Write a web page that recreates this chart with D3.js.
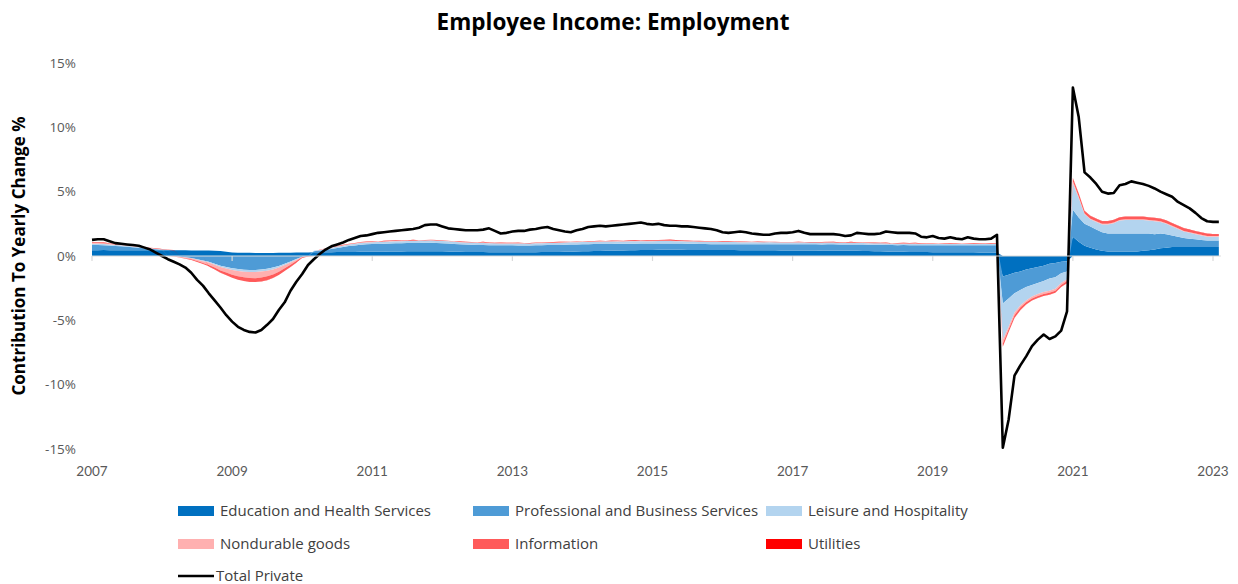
<!DOCTYPE html>
<html>
<head>
<meta charset="utf-8">
<script src="https://cdn.jsdelivr.net/npm/d3@7"></script>
<style>
  html, body { margin: 0; padding: 0; background: #fff; }
  svg { display: block; font-family: "Open Sans", Lato, "Liberation Sans", sans-serif; }
</style>
</head>
<body>
<svg id="chart" width="1238" height="584"></svg>
<script>
// Monthly series, Jan 2007 .. Feb 2023 (contribution to yearly change, %)
const startYear = 2007;

const totalPrivate = [
  1.25,1.3,1.3,1.15,1.0,0.95,0.9,0.85,0.8,0.65,0.5,0.25,
  0.0,-0.25,-0.45,-0.65,-0.9,-1.3,-1.85,-2.3,-2.9,-3.45,-4.0,-4.6,
  -5.1,-5.5,-5.75,-5.9,-5.95,-5.75,-5.35,-4.9,-4.2,-3.6,-2.7,-2.0,
  -1.4,-0.7,-0.25,0.15,0.5,0.75,0.9,1.05,1.25,1.4,1.55,1.6,
  1.7,1.8,1.85,1.9,1.95,2.0,2.05,2.1,2.2,2.4,2.45,2.45,
  2.3,2.15,2.1,2.05,2.0,2.0,2.0,2.05,2.15,1.95,1.75,1.8,
  1.9,1.95,1.95,2.05,2.1,2.2,2.25,2.1,2.0,1.9,1.85,2.0,
  2.1,2.25,2.3,2.35,2.3,2.35,2.4,2.45,2.5,2.55,2.6,2.5,
  2.45,2.5,2.4,2.35,2.35,2.3,2.3,2.25,2.2,2.15,2.1,2.0,
  1.85,1.8,1.85,1.9,1.85,1.75,1.7,1.65,1.65,1.75,1.8,1.8,
  1.85,1.95,1.8,1.7,1.7,1.7,1.7,1.7,1.65,1.55,1.6,1.8,
  1.75,1.7,1.7,1.75,1.9,1.85,1.8,1.8,1.8,1.75,1.5,1.45,
  1.55,1.4,1.35,1.45,1.35,1.3,1.45,1.35,1.3,1.3,1.35,1.65,
  -14.9,-12.7,-9.3,-8.5,-7.8,-7.0,-6.5,-6.1,-6.45,-6.25,-5.8,-4.3,
  13.1,10.8,6.5,6.1,5.6,5.0,4.85,4.9,5.5,5.6,5.8,5.7,
  5.6,5.45,5.25,5.0,4.8,4.6,4.2,3.95,3.7,3.35,2.95,2.7,
  2.65,2.65
];

const educationHealth = [
  0.45,0.45,0.46,0.45,0.44,0.45,0.45,0.44,0.45,0.45,0.44,0.44,
  0.44,0.44,0.45,0.44,0.44,0.43,0.43,0.42,0.42,0.40,0.38,0.33,
  0.28,0.26,0.25,0.25,0.24,0.24,0.24,0.24,0.25,0.25,0.26,0.27,
  0.28,0.28,0.29,0.3,0.3,0.3,0.31,0.31,0.32,0.32,0.33,0.33,
  0.33,0.34,0.34,0.35,0.35,0.35,0.36,0.36,0.36,0.37,0.37,0.37,
  0.36,0.35,0.34,0.33,0.32,0.32,0.31,0.31,0.3,0.3,0.3,0.3,
  0.3,0.3,0.3,0.3,0.3,0.31,0.31,0.32,0.32,0.33,0.34,0.35,
  0.36,0.37,0.38,0.39,0.4,0.41,0.42,0.43,0.44,0.45,0.46,0.47,
  0.47,0.48,0.48,0.48,0.48,0.48,0.47,0.47,0.47,0.46,0.46,0.46,
  0.46,0.46,0.46,0.45,0.45,0.45,0.45,0.44,0.44,0.44,0.43,0.43,
  0.43,0.43,0.42,0.42,0.42,0.41,0.41,0.41,0.4,0.4,0.4,0.4,
  0.39,0.38,0.37,0.36,0.35,0.34,0.33,0.33,0.32,0.32,0.31,0.31,
  0.3,0.3,0.3,0.3,0.29,0.29,0.29,0.29,0.28,0.28,0.28,0.28,
  -1.6,-1.45,-1.3,-1.2,-1.05,-0.95,-0.85,-0.75,-0.6,-0.55,-0.45,-0.4,
  1.5,1.1,0.8,0.65,0.5,0.4,0.35,0.35,0.35,0.35,0.35,0.35,
  0.4,0.45,0.5,0.6,0.65,0.7,0.7,0.7,0.7,0.7,0.7,0.7,
  0.7,0.7
];

const professionalBusiness = [
  0.4,0.4,0.38,0.36,0.33,0.3,0.27,0.24,0.2,0.16,0.12,0.08,
  0.05,0.02,0.0,-0.05,-0.1,-0.15,-0.25,-0.35,-0.45,-0.6,-0.75,-0.85,
  -0.95,-1.02,-1.06,-1.08,-1.08,-1.05,-1.0,-0.9,-0.78,-0.6,-0.42,-0.24,
  -0.05,0.0,0.08,0.12,0.18,0.25,0.32,0.38,0.45,0.5,0.55,0.58,
  0.6,0.6,0.62,0.63,0.64,0.64,0.65,0.65,0.66,0.66,0.66,0.65,
  0.64,0.62,0.6,0.58,0.57,0.56,0.55,0.55,0.54,0.54,0.53,0.53,
  0.53,0.52,0.52,0.52,0.53,0.53,0.54,0.54,0.54,0.55,0.55,0.55,
  0.55,0.55,0.55,0.54,0.54,0.53,0.53,0.52,0.52,0.51,0.51,0.5,
  0.5,0.5,0.5,0.5,0.49,0.49,0.48,0.48,0.47,0.47,0.46,0.46,
  0.46,0.46,0.46,0.46,0.47,0.47,0.47,0.47,0.48,0.48,0.48,0.48,
  0.48,0.48,0.49,0.49,0.49,0.49,0.5,0.5,0.5,0.5,0.5,0.5,
  0.5,0.5,0.5,0.51,0.51,0.51,0.51,0.52,0.52,0.52,0.52,0.52,
  0.53,0.53,0.53,0.53,0.54,0.54,0.54,0.54,0.55,0.55,0.55,0.55,
  -2.1,-1.85,-1.6,-1.45,-1.35,-1.3,-1.25,-1.2,-1.15,-1.1,-0.9,-0.8,
  2.1,1.9,1.7,1.65,1.55,1.45,1.4,1.4,1.4,1.4,1.4,1.4,
  1.35,1.3,1.2,1.15,1.05,0.9,0.8,0.7,0.65,0.6,0.55,0.5,
  0.5,0.5
];

const leisureHospitality = [
  0.1,0.1,0.1,0.09,0.08,0.08,0.07,0.06,0.05,0.05,0.04,0.03,
  0.02,0.01,0.0,-0.01,-0.02,-0.03,-0.04,-0.05,-0.06,-0.08,-0.1,-0.12,
  -0.14,-0.15,-0.16,-0.17,-0.17,-0.16,-0.15,-0.14,-0.12,-0.1,-0.08,-0.05,
  -0.02,0.0,0.03,0.05,0.07,0.09,0.1,0.11,0.12,0.13,0.14,0.14,
  0.14,0.14,0.15,0.15,0.15,0.16,0.16,0.16,0.16,0.17,0.17,0.17,
  0.17,0.17,0.17,0.16,0.16,0.16,0.16,0.16,0.15,0.15,0.15,0.15,
  0.15,0.15,0.15,0.15,0.16,0.16,0.16,0.16,0.16,0.17,0.17,0.17,
  0.17,0.17,0.17,0.18,0.18,0.18,0.18,0.18,0.18,0.18,0.18,0.18,
  0.18,0.18,0.18,0.18,0.18,0.17,0.17,0.17,0.17,0.17,0.17,0.16,
  0.16,0.16,0.16,0.16,0.15,0.15,0.15,0.15,0.15,0.14,0.14,0.14,
  0.14,0.14,0.14,0.13,0.13,0.13,0.13,0.13,0.12,0.12,0.12,0.12,
  0.12,0.12,0.12,0.12,0.12,0.11,0.11,0.11,0.11,0.11,0.11,0.11,
  0.1,0.1,0.1,0.1,0.1,0.1,0.1,0.1,0.1,0.1,0.1,0.12,
  -2.8,-2.2,-1.5,-1.2,-1.05,-0.9,-0.85,-0.85,-0.95,-0.9,-0.75,-0.6,
  2.05,1.5,0.75,0.55,0.6,0.6,0.7,0.8,1.0,1.05,1.05,1.05,
  1.05,1.0,1.0,0.9,0.8,0.7,0.6,0.5,0.45,0.4,0.35,0.3,
  0.3,0.3
];

const nondurableGoods = [
  0.06,0.06,0.06,0.05,0.05,0.05,0.04,0.04,0.03,0.03,0.02,0.02,
  0.01,0.0,-0.02,-0.04,-0.06,-0.08,-0.1,-0.14,-0.18,-0.22,-0.27,-0.32,
  -0.37,-0.41,-0.44,-0.46,-0.47,-0.46,-0.43,-0.39,-0.33,-0.26,-0.18,-0.1,
  -0.03,0.0,0.01,0.02,0.02,0.02,0.03,0.03,0.03,0.03,0.03,0.03,
  0.03,0.02,0.02,0.03,0.02,0.02,0.02,0.02,0.02,0.01,0.02,0.02,
  0.02,0.02,0.01,0.02,0.02,0.01,0.02,0.02,0.02,0.01,0.02,0.02,
  0.02,0.02,0.02,0.01,0.02,0.02,0.02,0.01,0.02,0.02,0.02,0.02,
  0.02,0.02,0.02,0.03,0.02,0.02,0.03,0.02,0.02,0.03,0.03,0.03,
  0.03,0.03,0.03,0.03,0.02,0.02,0.02,0.02,0.02,0.02,0.02,0.02,
  0.02,0.02,0.02,0.01,0.01,0.01,0.01,0.01,0.01,0.01,0.01,0.01,
  0.01,0.01,0.01,0.01,0.01,0.01,0.01,0.01,0.01,0.01,0.01,0.01,
  0.01,0.01,0.01,0.01,0.01,0.01,0.02,0.02,0.02,0.02,0.02,0.02,
  0.02,0.02,0.02,0.02,0.02,0.02,0.02,0.02,0.02,0.02,0.02,0.02,
  -0.3,-0.2,-0.2,-0.15,-0.15,-0.15,-0.15,-0.15,-0.15,-0.15,-0.15,-0.15,
  0.15,0.1,0.05,0.05,0.05,0.05,0.05,0.05,0.05,0.05,0.05,0.05,
  0.05,0.05,0.05,0.05,0.05,0.05,0.05,0.05,0.05,0.05,0.05,0.05,
  0.05,0.05
];

const information = [
  0.04,0.05,0.05,0.04,0.04,0.04,0.03,0.03,0.03,0.02,0.02,0.02,
  0.01,0.0,-0.01,-0.02,-0.03,-0.05,-0.07,-0.09,-0.11,-0.14,-0.17,-0.2,
  -0.23,-0.26,-0.28,-0.3,-0.3,-0.3,-0.29,-0.27,-0.24,-0.2,-0.16,-0.12,
  -0.06,-0.03,0.0,0.01,0.01,0.02,0.02,0.03,0.03,0.03,0.03,0.03,
  0.03,0.02,0.04,0.03,0.05,0.02,0.03,0.06,0.02,0.03,0.04,0.02,
  0.03,0.02,0.02,0.04,0.02,0.03,0.02,0.05,0.02,0.02,0.03,0.02,
  0.02,0.05,0.02,0.02,0.03,0.02,0.02,0.04,0.05,0.02,0.02,0.03,
  0.02,0.02,0.04,0.03,0.02,0.05,0.04,0.03,0.05,0.06,0.04,0.05,
  0.06,0.05,0.07,0.08,0.07,0.06,0.05,0.04,0.05,0.04,0.03,0.04,
  0.05,0.06,0.04,0.03,0.04,0.02,0.03,0.02,0.02,0.03,0.02,0.02,
  0.02,0.03,0.02,0.02,0.02,0.03,0.05,0.04,0.02,0.03,0.06,0.02,
  0.02,0.02,0.03,0.02,0.04,0.02,0.03,0.04,0.03,0.05,0.02,0.03,
  0.04,0.02,0.03,0.06,0.03,0.02,0.04,0.05,0.03,0.04,0.05,0.04,
  -0.25,-0.2,-0.2,-0.2,-0.15,-0.15,-0.15,-0.15,-0.15,-0.15,-0.15,-0.15,
  0.25,0.25,0.2,0.2,0.2,0.2,0.2,0.2,0.2,0.2,0.2,0.2,
  0.2,0.2,0.2,0.2,0.2,0.2,0.2,0.2,0.18,0.18,0.18,0.18,
  0.15,0.15
];

const utilities = [
  0.01,0.01,0.01,0.01,0.01,0.01,0.01,0.01,0.01,0.01,0.01,0.01,
  0.01,0.01,0.01,0.0,0.0,0.0,0.0,0.0,-0.01,-0.01,-0.01,-0.01,
  -0.01,-0.01,-0.01,-0.01,-0.01,-0.01,-0.01,-0.01,-0.01,-0.01,-0.01,-0.01,
  0.0,0.0,0.0,0.0,0.01,0.01,0.01,0.01,0.01,0.01,0.01,0.01,
  0.01,0.01,0.01,0.01,0.01,0.01,0.01,0.01,0.01,0.01,0.01,0.01,
  0.01,0.01,0.01,0.01,0.01,0.01,0.01,0.01,0.01,0.01,0.01,0.01,
  0.01,0.01,0.01,0.01,0.01,0.01,0.01,0.01,0.01,0.01,0.01,0.01,
  0.01,0.01,0.01,0.01,0.01,0.01,0.01,0.01,0.01,0.01,0.01,0.01,
  0.01,0.01,0.01,0.01,0.01,0.01,0.01,0.01,0.01,0.01,0.01,0.01,
  0.01,0.01,0.01,0.01,0.01,0.01,0.01,0.01,0.01,0.01,0.01,0.01,
  0.01,0.01,0.01,0.01,0.01,0.01,0.01,0.01,0.01,0.01,0.01,0.01,
  0.01,0.01,0.01,0.01,0.01,0.01,0.01,0.01,0.01,0.01,0.01,0.01,
  0.01,0.01,0.01,0.01,0.01,0.01,0.01,0.01,0.01,0.01,0.01,0.01,
  -0.01,-0.01,-0.01,-0.01,-0.01,-0.01,-0.01,-0.01,-0.01,-0.01,-0.01,-0.01,
  0.02,0.02,0.02,0.02,0.02,0.02,0.02,0.02,0.02,0.02,0.02,0.02,
  0.02,0.02,0.02,0.02,0.02,0.02,0.02,0.02,0.02,0.02,0.02,0.02,
  0.01,0.01
];

const seriesNames = [
  "Education and Health Services",
  "Professional and Business Services",
  "Leisure and Hospitality",
  "Nondurable goods",
  "Information",
  "Utilities"
];
const seriesColors = ["#0070C0", "#4E9BD6", "#B3D4EF", "#FFB0B0", "#FF5A5A", "#FF0000"];
const lineName = "Total Private";

const yTicks = [-15, -10, -5, 0, 5, 10, 15];
const xTickYears = [2007, 2009, 2011, 2013, 2015, 2017, 2019, 2021, 2023];

const titleText = "Employee Income: Employment";
const yTitleText = "Contribution To Yearly Change %";

// ---- build rows for the stack ----
const seriesValues = [educationHealth, professionalBusiness, leisureHospitality,
                      nondurableGoods, information, utilities];
const rows = totalPrivate.map((t, i) => {
  const r = { t: startYear + i / 12, total: t };
  seriesNames.forEach((n, k) => { r[n] = seriesValues[k][i]; });
  return r;
});

const svg = d3.select("#chart");

const x = d3.scaleLinear().domain([2007, 2023]).range([92, 1213]);
const y = d3.scaleLinear().domain([-15, 15]).range([449, 63]);

const stack = d3.stack()
  .keys(seriesNames)
  .offset(d3.stackOffsetDiverging);
const layers = stack(rows);

const area = d3.area()
  .x(d => x(d.data.t))
  .y0(d => y(d[0]))
  .y1(d => y(d[1]));

const plot = svg.append("g");

// horizontal axis line at zero with year tick marks
const axisG = svg.append("g").attr("transform", `translate(0,${y(0)})`);
axisG.append("line")
  .attr("x1", x(2007)).attr("x2", x(startYear + (totalPrivate.length - 1) / 12) + 2)
  .attr("y1", 0).attr("y2", 0)
  .attr("stroke", "#d9d9d9").attr("stroke-width", 1.2);
axisG.selectAll("line.tick")
  .data(xTickYears)
  .join("line")
  .attr("class", "tick")
  .attr("x1", d => x(d)).attr("x2", d => x(d))
  .attr("y1", 0).attr("y2", 5)
  .attr("stroke", "#d9d9d9").attr("stroke-width", 1.2);

plot.selectAll("path.layer")
  .data(layers)
  .join("path")
  .attr("class", "layer")
  .attr("fill", (d, i) => seriesColors[i])
  .attr("d", area);

const line = d3.line()
  .x(d => x(d.t))
  .y(d => y(d.total));

plot.append("path")
  .datum(rows)
  .attr("fill", "none")
  .attr("stroke", "#000")
  .attr("stroke-width", 2.6)
  .attr("stroke-linejoin", "round")
  .attr("d", line);

// y tick labels
svg.append("g").selectAll("text")
  .data(yTicks)
  .join("text")
  .attr("x", 76)
  .attr("y", d => y(d))
  .attr("dy", "0.35em")
  .attr("text-anchor", "end")
  .attr("font-size", 13.5)
  .attr("fill", "#595959")
  .text(d => d + "%");

// x tick labels along the bottom
svg.append("g").selectAll("text")
  .data(xTickYears)
  .join("text")
  .attr("x", d => x(d))
  .attr("y", 471)
  .attr("dy", "0.35em")
  .attr("text-anchor", "middle")
  .attr("font-family", "Lato, 'Open Sans', sans-serif")
  .attr("font-size", 13.5)
  .attr("fill", "#595959")
  .text(d => d);

// title
svg.append("text")
  .attr("x", 613).attr("y", 22)
  .attr("dy", "0.35em")
  .attr("text-anchor", "middle")
  .attr("font-size", 22.5)
  .attr("font-weight", "bold")
  .attr("fill", "#000")
  .text(titleText);

// y axis title
svg.append("text")
  .attr("transform", "translate(19,256) rotate(-90)")
  .attr("dy", "0.35em")
  .attr("text-anchor", "middle")
  .attr("font-size", 17)
  .attr("font-weight", "bold")
  .attr("fill", "#000")
  .text(yTitleText);

// legend
const legendCols = [178, 473, 766];
const legendRows = [511, 544, 576];
const legend = svg.append("g");
seriesNames.forEach((n, i) => {
  const cx = legendCols[i % 3], cy = legendRows[Math.floor(i / 3)];
  legend.append("rect")
    .attr("x", cx).attr("y", cy - 5)
    .attr("width", 36).attr("height", 10)
    .attr("fill", seriesColors[i]);
  legend.append("text")
    .attr("x", cx + 42).attr("y", cy)
    .attr("dy", "0.35em")
    .attr("font-size", 15)
    .attr("fill", "#404040")
    .text(n);
});
legend.append("line")
  .attr("x1", legendCols[0]).attr("x2", legendCols[0] + 36)
  .attr("y1", legendRows[2]).attr("y2", legendRows[2])
  .attr("stroke", "#000").attr("stroke-width", 2.6);
legend.append("text")
  .attr("x", legendCols[0] + 38).attr("y", legendRows[2])
  .attr("dy", "0.35em")
  .attr("font-size", 15)
  .attr("fill", "#404040")
  .text(lineName);
</script>
</body>
</html>
